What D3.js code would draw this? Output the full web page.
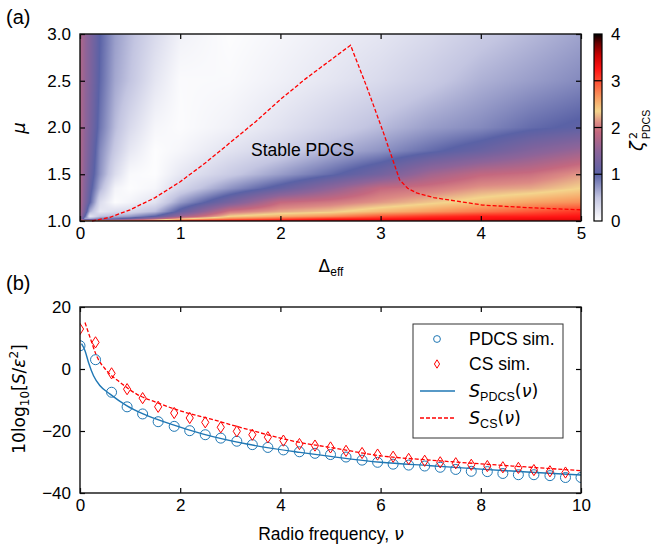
<!DOCTYPE html>
<html>
<head>
<meta charset="utf-8">
<script src="https://cdn.jsdelivr.net/npm/d3@7"></script>
<style>
    body { margin: 0; background: #fff; }
    svg text { font-family: "Liberation Sans", Arial, sans-serif; fill: #000; }
</style>
</head>
<body>
<div id="chart"></div>
<script>

// ---------- panel (a): zeta^2_PDCS ----------
const deltaGrid = [0, 0.05, 0.1, 0.2, 0.35, 0.5, 0.75, 1, 1.5, 2, 2.5, 3, 3.5, 4, 4.5, 5];
const muGrid = [1.0, 1.02, 1.05, 1.1, 1.2, 1.35, 1.5, 1.75, 2.0, 2.5, 3.0];

// one row per mu value, one entry per delta value
const zetaMu100 = [3.5, 3.5, 3.5, 3.5, 3.5, 3.5, 3.5, 3.5, 3.5, 3.5, 3.5, 3.5, 3.5, 3.5, 3.5, 3.5];
const zetaMu102 = [1.7, 0.6, 0.7, 0.9, 1.0, 1.2, 1.8, 2.4, 2.8, 3.0, 3.2, 3.25, 3.3, 3.3, 3.35, 3.35];
const zetaMu105 = [1.75, 1.0, 0.2, 0.5, 0.6, 0.7, 1.0, 1.6, 2.35, 2.55, 2.7, 2.95, 3.1, 3.2, 3.2, 3.25];
const zetaMu110 = [1.75, 1.25, 0.6, 0.2, 0.3, 0.35, 0.55, 1.1, 2.0, 2.2, 2.3, 2.5, 2.65, 2.8, 2.95, 3.1];
const zetaMu120 = [1.75, 1.37, 1.0, 0.3, 0.03, 0.1, 0.25, 0.7, 1.3, 1.9, 2.0, 2.15, 2.3, 2.45, 2.6, 2.7];
const zetaMu135 = [1.75, 1.42, 1.1, 0.6, 0.1, 0.02, 0.08, 0.35, 0.75, 1.1, 1.5, 1.9, 2.0, 2.15, 2.2, 2.35];
const zetaMu150 = [1.75, 1.46, 1.17, 0.75, 0.3, 0.05, 0.02, 0.2, 0.45, 0.7, 0.95, 1.25, 1.65, 1.88, 1.95, 2.15];
const zetaMu175 = [1.75, 1.5, 1.25, 0.8, 0.45, 0.2, 0.02, 0.08, 0.25, 0.4, 0.6, 0.75, 0.95, 1.15, 1.4, 1.6];
const zetaMu200 = [1.75, 1.53, 1.31, 0.9, 0.55, 0.32, 0.08, 0.03, 0.12, 0.25, 0.4, 0.55, 0.7, 0.8, 0.95, 1.05];
const zetaMu250 = [1.75, 1.55, 1.36, 0.97, 0.65, 0.5, 0.22, 0.04, 0.05, 0.13, 0.22, 0.32, 0.45, 0.6, 0.7, 0.8];
const zetaMu300 = [1.75, 1.56, 1.37, 1.0, 0.7, 0.55, 0.32, 0.12, 0.02, 0.08, 0.15, 0.22, 0.32, 0.45, 0.56, 0.67];

// stability boundary (red dashed)
const boundaryDelta = [0.12, 0.3, 0.5, 0.75, 1.0, 1.25, 1.5, 1.75, 2.0, 2.25, 2.5, 2.7, 2.86, 3.03, 3.19, 3.27, 3.36, 3.53, 4.02, 4.52, 5.0];
const boundaryMu = [1.0, 1.04, 1.12, 1.25, 1.42, 1.62, 1.84, 2.06, 2.3, 2.52, 2.72, 2.88, 2.44, 1.94, 1.44, 1.35, 1.30, 1.25, 1.17, 1.14, 1.12];

// colour map of the colour bar
const cmapValues = [0, 0.5, 1, 1.5, 1.9, 2.1, 2.35, 2.6, 2.85, 3.0, 3.25, 3.55, 3.8, 4];
const cmapColors = ["#ffffff", "#c3c5e1", "#5a62a6", "#8d6499", "#c4687f", "#dc8a84", "#f4d48c",
    "#f7a466", "#fb6d45", "#ff4a30", "#ff1414", "#c80000", "#6a0000", "#000000"];
const cbarTicks = [0, 1, 2, 3, 4];

// ---------- panel (b): noise spectra ----------
const nuSim = [0, 0.31, 0.63, 0.94, 1.25, 1.56, 1.88, 2.19, 2.5, 2.81, 3.13, 3.44, 3.75, 4.06, 4.38, 4.69,
    5, 5.31, 5.63, 5.94, 6.25, 6.56, 6.88, 7.19, 7.5, 7.81, 8.13, 8.44, 8.75, 9.06, 9.38, 9.69, 10];
const pdcsSim = [7.5, 3.0, -7.5, -12.2, -14.5, -17.0, -18.5, -19.9, -21.2, -22.3, -23.3, -24.4, -25.3, -26.1, -26.7, -27.2,
    -27.6, -28.4, -29.4, -30.1, -30.7, -31.0, -31.3, -31.7, -32.4, -33.0, -33.1, -33.7, -34.1, -34.1, -34.4, -35.0, -35.0];
const csSim = [12.9, 8.6, -1.4, -6.5, -9.4, -12.2, -14.2, -15.8, -17.2, -18.8, -20.1, -21.2, -22.0, -23.1, -24.2, -24.7,
    -25.3, -26.4, -27.1, -27.6, -28.3, -29.0, -29.6, -30.1, -30.4, -30.9, -31.3, -31.7, -31.9, -32.6, -33.0, -33.4];

const nuPdcsLine = [0.03, 0.1, 0.17, 0.27, 0.4, 0.6, 0.93, 1.26, 1.8, 2.46, 3.33, 4.39, 5, 6, 7, 8, 9, 10];
const sPdcsLine = [8.2, 5.9, 2.1, -2.2, -5.4, -8.1, -11.8, -14.5, -17.7, -21.0, -24.2, -26.9, -28.2, -30.1, -31.2, -32.3, -33.3, -34.2];
const nuCsLine = [0.1, 0.2, 0.33, 0.53, 0.8, 1.13, 1.53, 2.0, 2.6, 3.33, 4.39, 5, 6, 7, 8, 9, 10];
const sCsLine = [15.0, 10.2, 4.3, -0.5, -4.3, -8.1, -10.8, -13.5, -16.1, -19.4, -23.7, -25.3, -28.0, -29.4, -30.6, -31.7, -32.8];

const xTicksA = [0, 1, 2, 3, 4, 5];
const yTicksA = [1.0, 1.5, 2.0, 2.5, 3.0];
const xTicksB = [0, 2, 4, 6, 8, 10];
const yTicksB = [-40, -20, 0, 20];

const MATH = '"DejaVu Sans", sans-serif';
const BLUE = "#1f77b4";
const RED = "#ff0000";

const svg = d3.select("#chart").append("svg")
    .attr("width", 653)
    .attr("height", 544);


// little helper for the inward ticks on all four sides
function frameAxes(g, x, y, xTicks, yTicks, xFmt, yFmt) {
    let [x0, x1] = x.range();
    let [y1, y0] = y.range();

    g.append("g")
        .attr("transform", `translate(0,${y1})`)
        .call(d3.axisBottom(x).tickValues(xTicks).tickFormat(xFmt).tickSizeInner(-5).tickSizeOuter(0).tickPadding(6));
    g.append("g")
        .attr("transform", `translate(0,${y0})`)
        .call(d3.axisTop(x).tickValues(xTicks).tickFormat("").tickSizeInner(-5).tickSizeOuter(0));
    g.append("g")
        .attr("transform", `translate(${x0},0)`)
        .call(d3.axisLeft(y).tickValues(yTicks).tickFormat(yFmt).tickSizeInner(-5).tickSizeOuter(0).tickPadding(9));
    g.append("g")
        .attr("transform", `translate(${x1},0)`)
        .call(d3.axisRight(y).tickValues(yTicks).tickFormat("").tickSizeInner(-5).tickSizeOuter(0));

    g.selectAll(".domain").remove();
    g.selectAll(".tick line").attr("stroke", "#000").attr("stroke-width", 1.2);
    g.selectAll(".tick text")
        .attr("font-size", 17)
        .attr("font-family", '"Liberation Sans", Arial, sans-serif');

    g.append("rect")
        .attr("x", x0).attr("y", y0)
        .attr("width", x1 - x0).attr("height", y1 - y0)
        .attr("fill", "none")
        .attr("stroke", "#111")
        .attr("stroke-width", 1.4);
}


class HeatmapVis {

    constructor(svg) {
        this.svg = svg;
        this.initVis();
    }

    initVis() {
        let vis = this;

        vis.x = d3.scaleLinear().domain([0, 5]).range([80, 581]);
        vis.y = d3.scaleLinear().domain([1, 3]).range([221, 34]);

        vis.color = d3.scaleLinear()
            .domain(cmapValues)
            .range(cmapColors)
            .interpolate(d3.interpolateRgb)
            .clamp(true);

        vis.grid = [zetaMu100, zetaMu102, zetaMu105, zetaMu110, zetaMu120, zetaMu135,
            zetaMu150, zetaMu175, zetaMu200, zetaMu250, zetaMu300];

        vis.wrangleData();
    }

    // bilinear look-up in the read grid (for shading the pixels)
    zetaAt(d, m) {
        let vis = this;
        let i = Math.max(0, Math.min(deltaGrid.length - 2, d3.bisectRight(deltaGrid, d) - 1));
        let j = Math.max(0, Math.min(muGrid.length - 2, d3.bisectRight(muGrid, m) - 1));
        let tx = Math.max(0, Math.min(1, (d - deltaGrid[i]) / (deltaGrid[i + 1] - deltaGrid[i])));
        let ty = Math.max(0, Math.min(1, (m - muGrid[j]) / (muGrid[j + 1] - muGrid[j])));
        let a = vis.grid[j][i], b = vis.grid[j][i + 1];
        let c = vis.grid[j + 1][i], e = vis.grid[j + 1][i + 1];
        return (a * (1 - tx) + b * tx) * (1 - ty) + (c * (1 - tx) + e * tx) * ty;
    }

    wrangleData() {
        let vis = this;
        vis.boundary = boundaryDelta.map((d, i) => ({delta: d, mu: boundaryMu[i]}));
        vis.updateVis();
    }

    updateVis() {
        let vis = this;
        let [x0, x1] = vis.x.range();
        let [y1, y0] = vis.y.range();
        let w = x1 - x0, h = y1 - y0;

        // shade the map pixel by pixel into a canvas
        let canvas = document.createElement("canvas");
        canvas.width = w;
        canvas.height = h;
        let ctx = canvas.getContext("2d");
        let img = ctx.createImageData(w, h);
        for (let py = 0; py < h; py++) {
            let m = vis.y.invert(y0 + py + 0.5);
            for (let px = 0; px < w; px++) {
                let d = vis.x.invert(x0 + px + 0.5);
                let c = d3.rgb(vis.color(vis.zetaAt(d, m)));
                let k = 4 * (py * w + px);
                img.data[k] = c.r;
                img.data[k + 1] = c.g;
                img.data[k + 2] = c.b;
                img.data[k + 3] = 255;
            }
        }
        ctx.putImageData(img, 0, 0);

        vis.svg.append("image")
            .attr("x", x0).attr("y", y0)
            .attr("width", w).attr("height", h)
            .attr("preserveAspectRatio", "none")
            .attr("href", canvas.toDataURL());

        // boundary of the stable region
        let line = d3.line()
            .x(d => vis.x(d.delta))
            .y(d => vis.y(d.mu));

        vis.svg.append("path")
            .datum(vis.boundary)
            .attr("d", line)
            .attr("fill", "none")
            .attr("stroke", RED)
            .attr("stroke-width", 1.3)
            .attr("stroke-dasharray", "4,2");

        vis.svg.append("text")
            .attr("x", 251).attr("y", 156)
            .attr("font-size", 17.5)
            .text("Stable PDCS");

        frameAxes(vis.svg.append("g"), vis.x, vis.y, xTicksA, yTicksA, d3.format("d"), d3.format(".1f"));

        // axis labels
        let xl = vis.svg.append("text")
            .attr("x", 331).attr("y", 272)
            .attr("text-anchor", "middle")
            .attr("font-size", 17);
        xl.append("tspan").style("font-family", MATH).text("Δ");
        xl.append("tspan").attr("font-size", 12).attr("dy", 4).text("eff");

        vis.svg.append("text")
            .attr("transform", "translate(25,128) rotate(-90)")
            .attr("text-anchor", "middle")
            .attr("font-size", 18)
            .style("font-family", MATH)
            .style("font-style", "italic")
            .text("μ");

        vis.svg.append("text")
            .attr("x", 6).attr("y", 24)
            .attr("font-size", 20)
            .text("(a)");

        vis.drawColorbar();
    }

    drawColorbar() {
        let vis = this;
        let cb = d3.scaleLinear().domain([0, 4]).range([221, 34]);

        let grad = vis.svg.append("defs").append("linearGradient")
            .attr("id", "cbarGrad")
            .attr("x1", 0).attr("y1", 1).attr("x2", 0).attr("y2", 0);
        grad.selectAll("stop")
            .data(cmapValues)
            .enter().append("stop")
            .attr("offset", d => d / 4)
            .attr("stop-color", (d, i) => cmapColors[i]);

        vis.svg.append("rect")
            .attr("x", 594).attr("y", cb(4))
            .attr("width", 8).attr("height", cb(0) - cb(4))
            .attr("fill", "url(#cbarGrad)")
            .attr("stroke", "#000")
            .attr("stroke-width", 1.2);

        vis.svg.selectAll(".cbtick")
            .data(cbarTicks.slice(1, -1))
            .enter().append("line")
            .attr("class", "cbtick")
            .attr("x1", 594).attr("x2", 602)
            .attr("y1", d => cb(d)).attr("y2", d => cb(d))
            .attr("stroke", "#000")
            .attr("stroke-width", 1.2);

        vis.svg.selectAll(".cblabel")
            .data(cbarTicks)
            .enter().append("text")
            .attr("class", "cblabel")
            .attr("x", 611)
            .attr("y", d => cb(d))
            .attr("dy", "0.36em")
            .attr("font-size", 17)
            .text(d => d);

        // zeta^2_PDCS, rotated
        let lab = vis.svg.append("g").attr("transform", "translate(643,151) rotate(-90)");
        lab.append("text")
            .attr("x", 0).attr("y", 0)
            .attr("font-size", 18)
            .style("font-family", MATH)
            .style("font-style", "italic")
            .text("ζ");
        lab.append("text")
            .attr("x", 12).attr("y", -6)
            .attr("font-size", 11)
            .style("font-family", MATH)
            .text("2");
        lab.append("text")
            .attr("x", 12).attr("y", 7)
            .attr("font-size", 10.5)
            .text("PDCS");
    }
}


class SpectrumVis {

    constructor(svg) {
        this.svg = svg;
        this.initVis();
    }

    initVis() {
        let vis = this;

        vis.x = d3.scaleLinear().domain([0, 10]).range([80, 581]);
        vis.y = d3.scaleLinear().domain([-40, 20]).range([493, 307]);

        vis.svg.append("clipPath")
            .attr("id", "clipB")
            .append("rect")
            .attr("x", 80).attr("y", 307)
            .attr("width", 501).attr("height", 186);

        vis.wrangleData();
    }

    wrangleData() {
        let vis = this;
        vis.pdcsPoints = nuSim.map((d, i) => ({nu: d, s: pdcsSim[i]}));
        vis.csPoints = csSim.map((d, i) => ({nu: nuSim[i], s: d}));
        vis.pdcsLine = nuPdcsLine.map((d, i) => ({nu: d, s: sPdcsLine[i]}));
        vis.csLine = nuCsLine.map((d, i) => ({nu: d, s: sCsLine[i]}));
        vis.updateVis();
    }

    updateVis() {
        let vis = this;
        let plot = vis.svg.append("g").attr("clip-path", "url(#clipB)");

        let line = d3.line()
            .x(d => vis.x(d.nu))
            .y(d => vis.y(d.s))
            .curve(d3.curveMonotoneX);

        plot.append("path")
            .datum(vis.pdcsLine)
            .attr("d", line)
            .attr("fill", "none")
            .attr("stroke", BLUE)
            .attr("stroke-width", 1.4);

        plot.append("path")
            .datum(vis.csLine)
            .attr("d", line)
            .attr("fill", "none")
            .attr("stroke", RED)
            .attr("stroke-width", 1.3)
            .attr("stroke-dasharray", "4,2");

        plot.selectAll(".pdcs-dot")
            .data(vis.pdcsPoints)
            .enter().append("circle")
            .attr("class", "pdcs-dot")
            .attr("cx", d => vis.x(d.nu))
            .attr("cy", d => vis.y(d.s))
            .attr("r", 5)
            .attr("fill", "none")
            .attr("stroke", BLUE)
            .attr("stroke-width", 1);

        plot.selectAll(".cs-dot")
            .data(vis.csPoints)
            .enter().append("path")
            .attr("class", "cs-dot")
            .attr("d", d => vis.diamond(vis.x(d.nu), vis.y(d.s), 3.6, 5.6))
            .attr("fill", "none")
            .attr("stroke", RED)
            .attr("stroke-width", 1);

        frameAxes(vis.svg.append("g"), vis.x, vis.y, xTicksB, yTicksB, d3.format("d"), d3.format("d"));

        // axis labels
        let xl = vis.svg.append("text")
            .attr("x", 331).attr("y", 540)
            .attr("text-anchor", "middle")
            .attr("font-size", 17.5);
        xl.append("tspan").text("Radio frequency, ");
        xl.append("tspan").style("font-family", MATH).style("font-style", "italic").text("ν");

        let yl = vis.svg.append("text")
            .attr("transform", "translate(25,399) rotate(-90)")
            .attr("text-anchor", "middle")
            .attr("font-size", 17)
            .style("font-family", MATH);
        yl.append("tspan").text("10log");
        yl.append("tspan").attr("font-size", 12).attr("dy", 4).text("10");
        yl.append("tspan").attr("dy", -4).text("[");
        yl.append("tspan").style("font-style", "italic").text("S");
        yl.append("tspan").text("/");
        yl.append("tspan").style("font-style", "italic").text("ε");
        yl.append("tspan").attr("font-size", 12).attr("dy", -7).text("2");
        yl.append("tspan").attr("dy", 7).text("]");

        vis.svg.append("text")
            .attr("x", 6).attr("y", 290)
            .attr("font-size", 20)
            .text("(b)");

        vis.drawLegend();
    }

    diamond(cx, cy, hw, hh) {
        return `M${cx},${cy - hh}L${cx + hw},${cy}L${cx},${cy + hh}L${cx - hw},${cy}Z`;
    }

    drawLegend() {
        let vis = this;
        let lg = vis.svg.append("g");

        lg.append("rect")
            .attr("x", 413).attr("y", 324)
            .attr("width", 150).attr("height", 114)
            .attr("fill", "#fff")
            .attr("stroke", "#333")
            .attr("stroke-width", 1);

        let rows = [339, 364, 391, 418];

        lg.append("circle")
            .attr("cx", 437).attr("cy", rows[0]).attr("r", 3.4)
            .attr("fill", "none").attr("stroke", BLUE).attr("stroke-width", 1);
        lg.append("path")
            .attr("d", vis.diamond(437, rows[1], 2.6, 4.2))
            .attr("fill", "none").attr("stroke", RED).attr("stroke-width", 1);
        lg.append("line")
            .attr("x1", 420).attr("x2", 455).attr("y1", rows[2]).attr("y2", rows[2])
            .attr("stroke", BLUE).attr("stroke-width", 1.4);
        lg.append("line")
            .attr("x1", 420).attr("x2", 455).attr("y1", rows[3]).attr("y2", rows[3])
            .attr("stroke", RED).attr("stroke-width", 1.3).attr("stroke-dasharray", "4,2");

        lg.append("text").attr("x", 469).attr("y", rows[0] + 6).attr("font-size", 17.5).text("PDCS sim.");
        lg.append("text").attr("x", 469).attr("y", rows[1] + 6).attr("font-size", 17.5).text("CS sim.");

        [["PDCS", rows[2]], ["CS", rows[3]]].forEach(([sub, yy]) => {
            let t = lg.append("text")
                .attr("x", 469).attr("y", yy + 6)
                .attr("font-size", 17.5)
                .style("font-family", MATH);
            t.append("tspan").style("font-style", "italic").text("S");
            t.append("tspan").attr("font-size", 12.5).attr("dy", 4)
                .style("font-family", '"Liberation Sans", Arial, sans-serif').text(sub);
            t.append("tspan").attr("dy", -4).text("(");
            t.append("tspan").style("font-style", "italic").text("ν");
            t.append("tspan").text(")");
        });
    }
}

new HeatmapVis(svg);
new SpectrumVis(svg);

</script>
</body>
</html>
